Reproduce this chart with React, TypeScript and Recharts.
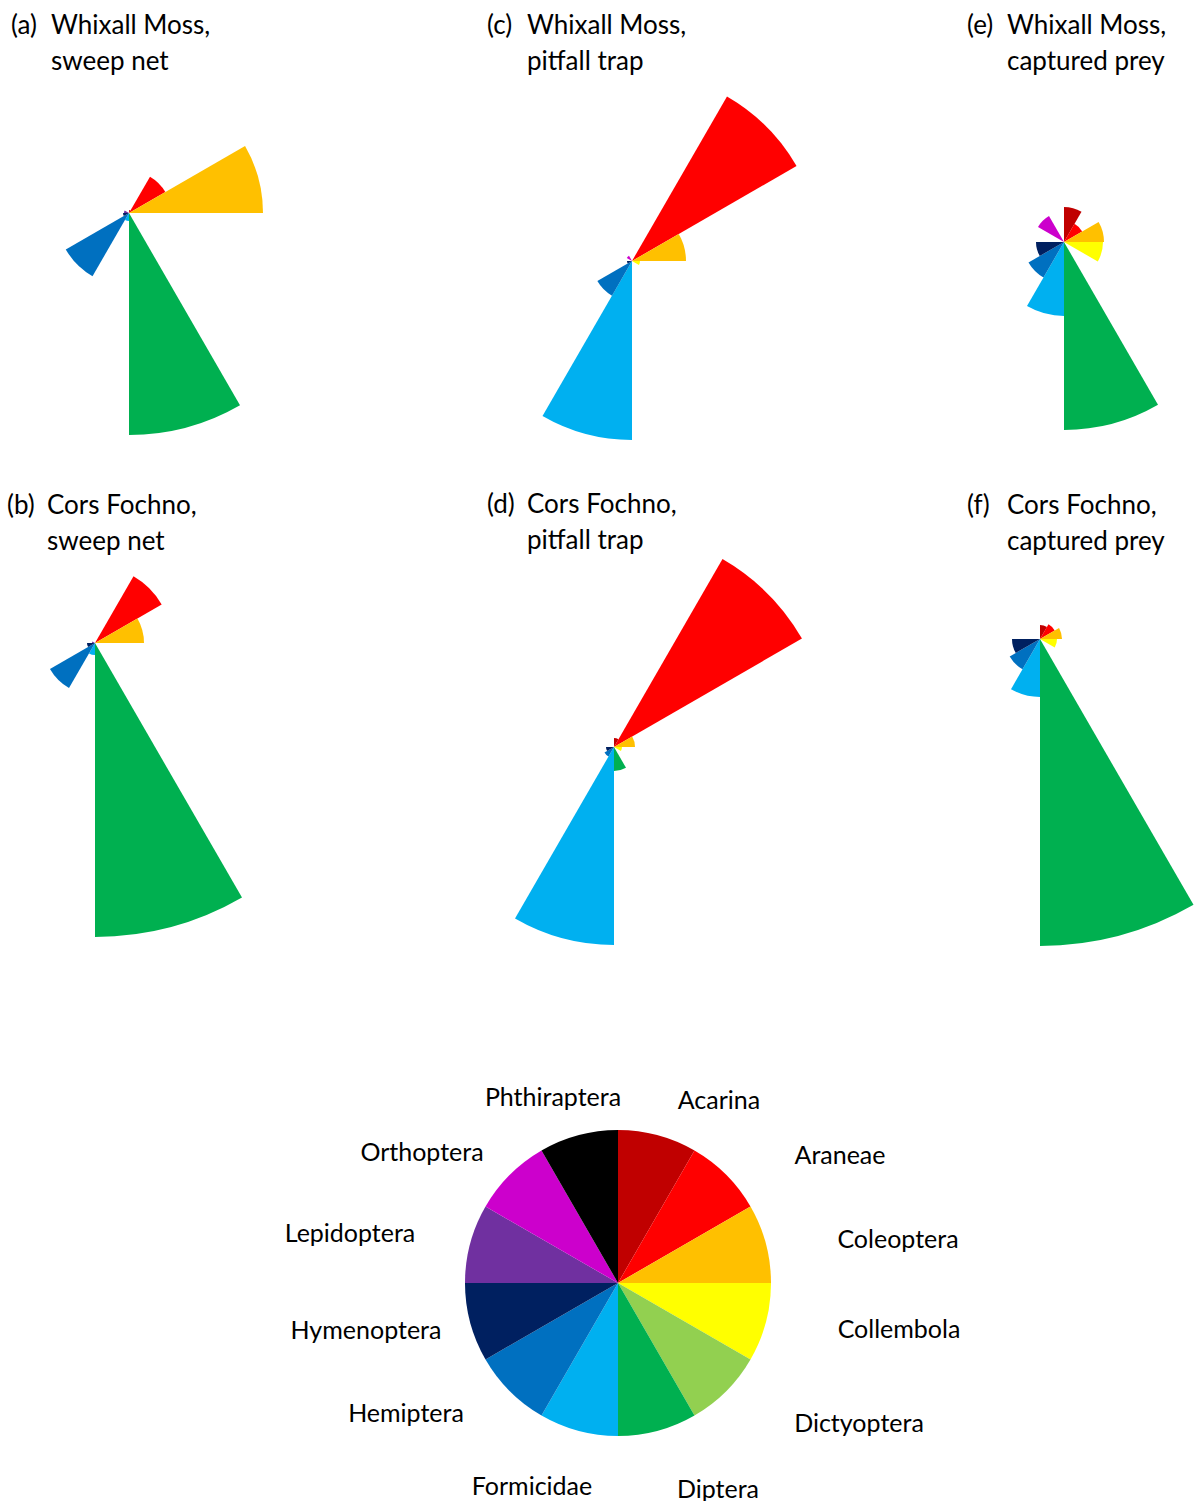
import React from "react";
import {
  RadialBarChart,
  RadialBar,
  PolarAngleAxis,
  PolarRadiusAxis,
  PieChart,
  Pie,
  Cell,
} from "recharts";

const CATEGORIES = [
  "Acarina",
  "Araneae",
  "Coleoptera",
  "Collembola",
  "Dictyoptera",
  "Diptera",
  "Formicidae",
  "Hemiptera",
  "Hymenoptera",
  "Lepidoptera",
  "Orthoptera",
  "Phthiraptera",
];

const COLORS = [
  "#C00000",
  "#FF0000",
  "#FFC000",
  "#FFFF00",
  "#92D050",
  "#00B050",
  "#00B0F0",
  "#0070C0",
  "#002060",
  "#7030A0",
  "#CC00CC",
  "#000000",
];

// relative sector radius per taxon (same order as CATEGORIES)
const WHIXALL_SWEEP = [3, 42, 134, 0, 0, 222, 8, 73, 6, 5, 0, 0];
const CORS_SWEEP = [0, 77, 49, 0, 0, 294, 12, 52, 8, 3, 0, 0];
const WHIXALL_PITFALL = [0, 190, 54, 8, 0, 0, 179, 40, 5, 0, 6, 0];
const CORS_PITFALL = [9, 217, 21, 8, 0, 24, 198, 11, 8, 0, 0, 0];
const WHIXALL_PREY = [35, 21, 40, 39, 0, 188, 74, 41, 28, 0, 30, 0];
const CORS_PREY = [14, 17, 22, 17, 0, 307, 58, 35, 28, 0, 0, 0];

const RADIUS_MAX = 320;

const FONT = "Lato, 'Open Sans', sans-serif";

interface PanelProps {
  letter: string;
  site: string;
  method: string;
  values: number[];
  left: number;
  top: number;
  cx: number;
  cy: number;
  titleX: number;
  titleY: number;
}

function RosePanel({ letter, site, method, values, left, top, cx, cy, titleX, titleY }: PanelProps) {
  const data = CATEGORIES.map((name, i) => ({ name, value: values[i] }));
  return (
    <>
      <div style={{ position: "absolute", left, top, width: 400, height: 480 }}>
        {/* recharts draws each band from its start angle counter-clockwise, so start one band early */}
        <RadialBarChart
          width={400}
          height={480}
          data={data}
          layout="centric"
          cx={cx}
          cy={cy}
          innerRadius={0}
          outerRadius={RADIUS_MAX}
          startAngle={60}
          endAngle={-300}
          barCategoryGap={0}
          barGap={0}
          margin={{ top: 0, right: 0, bottom: 0, left: 0 }}
        >
          <PolarAngleAxis type="category" dataKey="name" tick={false} axisLine={false} tickLine={false} />
          <PolarRadiusAxis type="number" domain={[0, RADIUS_MAX]} tick={false} axisLine={false} tickLine={false} />
          <RadialBar dataKey="value" isAnimationActive={false} stroke="none">
            {data.map((d, i) => (
              <Cell key={d.name} fill={COLORS[i]} />
            ))}
          </RadialBar>
        </RadialBarChart>
      </div>
      <div
        style={{
          position: "absolute",
          left: titleX,
          top: titleY,
          fontFamily: FONT,
          fontSize: 26,
          lineHeight: "36px",
          color: "#000",
          whiteSpace: "nowrap",
        }}
      >
        <div>
          <span style={{ display: "inline-block", width: 40 }}>{letter}</span>
          {site}
        </div>
        <div style={{ paddingLeft: 40 }}>{method}</div>
      </div>
    </>
  );
}

const LEGEND_LABELS: { name: string; x: number; y: number }[] = [
  { name: "Phthiraptera", x: 553, y: 1096 },
  { name: "Acarina", x: 719, y: 1099 },
  { name: "Araneae", x: 840, y: 1154 },
  { name: "Coleoptera", x: 898, y: 1238 },
  { name: "Collembola", x: 899, y: 1328 },
  { name: "Dictyoptera", x: 859, y: 1422 },
  { name: "Diptera", x: 718, y: 1488 },
  { name: "Formicidae", x: 532, y: 1485 },
  { name: "Hemiptera", x: 406, y: 1412 },
  { name: "Hymenoptera", x: 366, y: 1329 },
  { name: "Lepidoptera", x: 350, y: 1232 },
  { name: "Orthoptera", x: 422, y: 1151 },
];

export default function App() {
  const legendData = CATEGORIES.map((name) => ({ name, value: 1 }));
  return (
    <div style={{ position: "absolute", left: 0, top: 0, width: 1200, height: 1501, background: "#fff" }}>
      <RosePanel letter="(a)" site="Whixall Moss," method="sweep net" values={WHIXALL_SWEEP} left={10} top={0} cx={119} cy={213} titleX={11} titleY={6} />
      <RosePanel letter="(c)" site="Whixall Moss," method="pitfall trap" values={WHIXALL_PITFALL} left={487} top={0} cx={145} cy={261} titleX={487} titleY={6} />
      <RosePanel letter="(e)" site="Whixall Moss," method="captured prey" values={WHIXALL_PREY} left={800} top={0} cx={264} cy={242} titleX={967} titleY={6} />
      <RosePanel letter="(b)" site="Cors Fochno," method="sweep net" values={CORS_SWEEP} left={7} top={480} cx={88} cy={163} titleX={7} titleY={486} />
      <RosePanel letter="(d)" site="Cors Fochno," method="pitfall trap" values={CORS_PITFALL} left={487} top={480} cx={127} cy={267} titleX={487} titleY={485} />
      <RosePanel letter="(f)" site="Cors Fochno," method="captured prey" values={CORS_PREY} left={800} top={480} cx={240} cy={159} titleX={967} titleY={486} />

      <div style={{ position: "absolute", left: 0, top: 1000 }}>
        <PieChart width={1200} height={501} margin={{ top: 0, right: 0, bottom: 0, left: 0 }}>
          <Pie
            data={legendData}
            dataKey="value"
            nameKey="name"
            cx={618}
            cy={283}
            innerRadius={0}
            outerRadius={153}
            startAngle={90}
            endAngle={-270}
            stroke="none"
            isAnimationActive={false}
          >
            {legendData.map((d, i) => (
              <Cell key={d.name} fill={COLORS[i]} />
            ))}
          </Pie>
        </PieChart>
      </div>
      {LEGEND_LABELS.map((l) => (
        <div
          key={l.name}
          style={{
            position: "absolute",
            left: l.x,
            top: l.y,
            transform: "translate(-50%, -50%)",
            fontFamily: FONT,
            fontSize: 25,
            color: "#000",
            whiteSpace: "nowrap",
          }}
        >
          {l.name}
        </div>
      ))}
    </div>
  );
}
